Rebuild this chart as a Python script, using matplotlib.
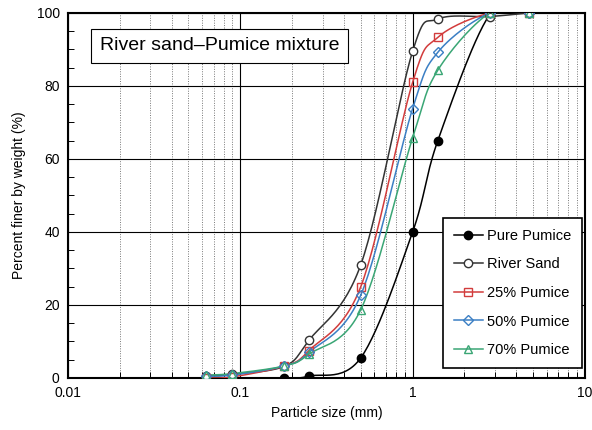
import numpy as np
import matplotlib
matplotlib.use("Agg")
import matplotlib.pyplot as plt
from matplotlib.ticker import LogLocator, NullFormatter, MultipleLocator, FixedLocator

plt.rcParams["font.family"] = ["Liberation Sans", "DejaVu Sans"]

# sieve sizes (mm)
sizes = [0.063, 0.09, 0.18, 0.25, 0.5, 1.0, 1.4, 2.8, 4.75]
pure_sizes = [0.18, 0.25, 0.5, 1.0, 1.4, 2.8, 4.75]

pure_pumice = [0.0, 0.5, 5.5, 40.0, 65.0, 99.5, 100.0]
river_sand = [0.5, 1.0, 3.2, 10.3, 31.0, 89.5, 98.3, 99.0, 100.0]
pumice_25 = [0.0, 0.3, 3.3, 7.5, 25.0, 81.0, 93.3, 100.0, 100.0]
pumice_50 = [0.5, 0.8, 3.3, 7.0, 22.7, 73.8, 89.2, 100.0, 100.0]
pumice_70 = [0.8, 1.2, 3.3, 6.5, 18.7, 65.8, 84.3, 100.0, 100.0]

series = [
    ("Pure Pumice", pure_sizes, pure_pumice, "#000000", "o", "#000000"),
    ("River Sand", sizes, river_sand, "#333333", "o", "white"),
    ("25% Pumice", sizes, pumice_25, "#d23c3c", "s", "none"),
    ("50% Pumice", sizes, pumice_50, "#3b7fc4", "D", "none"),
    ("70% Pumice", sizes, pumice_70, "#3aa675", "^", "none"),
]


def smooth(x, y, n=30):
    """Catmull-Rom style smoothing in log-x space (like Excel smoothed lines)."""
    lx = np.log10(x)
    y = np.asarray(y, dtype=float)
    pts = np.column_stack([lx, y])
    pts = np.vstack([pts[0], pts, pts[-1]])
    out = []
    for i in range(1, len(pts) - 2):
        p0, p1, p2, p3 = pts[i - 1], pts[i], pts[i + 1], pts[i + 2]
        t = np.linspace(0, 1, n)[:, None]
        seg = 0.5 * ((2 * p1) + (-p0 + p2) * t
                     + (2 * p0 - 5 * p1 + 4 * p2 - p3) * t ** 2
                     + (-p0 + 3 * p1 - 3 * p2 + p3) * t ** 3)
        out.append(seg)
    out = np.vstack(out)
    return 10 ** out[:, 0], out[:, 1]


fig = plt.figure(figsize=(5.92, 4.30), dpi=100)
ax = fig.add_axes([0.115, 0.121, 0.873, 0.849])

for label, xs, ys, color, marker, mfc in series:
    sx, sy = smooth(xs, ys)
    ax.plot(sx, sy, color=color, lw=1.1, zorder=3)
    ax.plot(xs, ys, linestyle="none", marker=marker, color=color,
            mfc=mfc, mec=color, ms=6 if marker != "D" else 5, mew=1.0, zorder=4)
    ax.plot([], [], color=color, marker=marker, mfc=mfc, mec=color,
            ms=6 if marker != "D" else 5, lw=1.1, label=label)

ax.set_xscale("log")
ax.set_xlim(0.01, 10)
ax.set_ylim(0, 100)

ax.xaxis.set_major_locator(FixedLocator([0.01, 0.1, 1, 10]))
ax.set_xticklabels(["0.01", "0.1", "1", "10"])
ax.xaxis.set_minor_locator(LogLocator(base=10, subs=np.arange(2, 10)))
ax.xaxis.set_minor_formatter(NullFormatter())
ax.yaxis.set_major_locator(MultipleLocator(20))
ax.yaxis.set_minor_locator(MultipleLocator(5))

ax.grid(which="major", axis="both", color="black", lw=0.8)
ax.grid(which="minor", axis="x", color="#777777", lw=0.7, linestyle=(0, (1, 1.5)))
ax.set_axisbelow(True)

ax.tick_params(which="both", direction="in", labelsize=10)
ax.tick_params(which="major", length=0, pad=6)
ax.tick_params(which="minor", length=4, width=0.7)
for s in ax.spines.values():
    s.set_linewidth(1.5)

ax.set_xlabel("Particle size (mm)", fontsize=10)
ax.set_ylabel("Percent finer by weight (%)", fontsize=10, labelpad=8)

ax.text(0.0153, 91.0, "River sand\u2013Pumice mixture", fontsize=14,
        va="center", ha="left", zorder=6,
        bbox=dict(boxstyle="square,pad=0.45", fc="white", ec="black", lw=0.8))

leg = ax.legend(loc="lower right", fontsize=10.5, frameon=True, fancybox=False,
                edgecolor="black", framealpha=1, handlelength=2.0,
                handletextpad=0.3, labelspacing=1.0, borderpad=0.75,
                borderaxespad=0, bbox_to_anchor=(0.995, 0.027))
leg.get_frame().set_linewidth(1.2)

fig.savefig("out.png", dpi=100)
